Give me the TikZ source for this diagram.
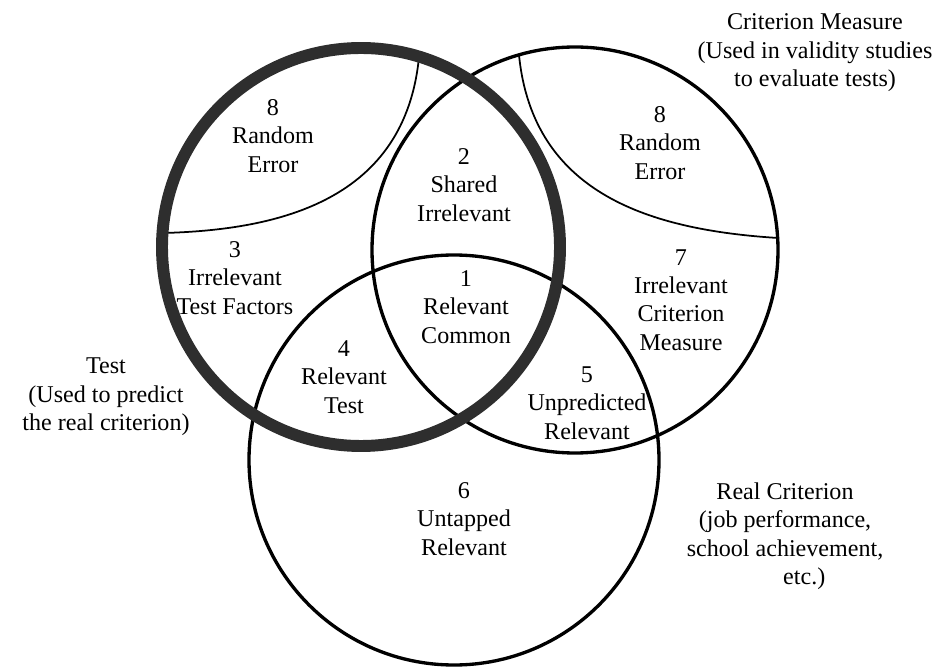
\documentclass[tikz,border=0pt]{standalone}
\usepackage{fontspec}
\setmainfont{Liberation Serif}
\newcommand{\vennfont}{\fontsize{13.7}{16.2}\selectfont}

\begin{document}
\begin{tikzpicture}[x=0.02cm, y=-0.02cm,
    lbl/.style={align=center, font=\vennfont, inner sep=0pt},
    rim/.style={line width=1.9pt},
    err/.style={line width=1pt}]
  \useasboundingbox (0,0) rectangle (949,668);
  % centres of the three circles (pixel grid, y downwards)
  \coordinate (T) at (361,247);
  \coordinate (C) at (575,250);
  \coordinate (R) at (454,460);

  % random error boundaries
  \draw[err] (419,57) .. controls (405,200) and (280,230) .. (163,233);
  \draw[err] (519,55) .. controls (533,195) and (652,230) .. (778,238);

  \draw[rim] (C) circle (203);
  \draw[rim] (R) circle (205);
  \draw[black!82, line width=6.8pt] (T) circle (199);

  % regions
  \node[lbl] (errT) at (273,136) {8\\Random\\Error};
  \node[lbl] (errC) at (660,143) {8\\Random\\Error};
  \node[lbl] (shared) at (464,185) {2\\Shared\\Irrelevant};
  \node[lbl] (irrT) at (235,278) {3\\Irrelevant\\Test Factors};
  \node[lbl] (common) at (466,307) {1\\Relevant\\Common};
  \node[lbl] (relT) at (344,377) {4\\Relevant\\Test};
  \node[lbl] (unpred) at (587,403) {5\\Unpredicted\\Relevant};
  \node[lbl] (untap) at (464,519) {6\\Untapped\\Relevant};
  \node[lbl] (irrC) at (681,300) {7\\Irrelevant\\Criterion\\Measure};

  % circle captions
  \node[lbl] (capC) at (815,53) {Criterion Measure\\(Used in validity studies\\to evaluate tests)};
  \node[lbl] (capT) at (106,397) {Test\\(Used to predict\\the real criterion)};
  \node[lbl] (capR) at (785,536) {Real Criterion\\(job performance,\\school achievement,\\\hspace*{1.6em}etc.)};
\end{tikzpicture}
\end{document}
